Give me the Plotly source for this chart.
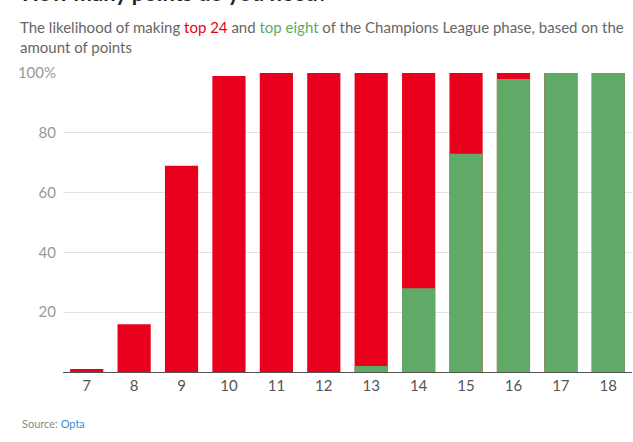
import plotly.graph_objects as go

points = ["7", "8", "9", "10", "11", "12", "13", "14", "15", "16", "17", "18"]
top24 = [1, 16, 69, 99, 100, 100, 100, 100, 100, 100, 100, 100]
top8 = [0, 0, 0, 0, 0, 0, 2, 28, 73, 98, 100, 100]
ytick_vals = [20, 40, 60, 80, 100]
ytick_text = ["20", "40", "60", "80", "100%"]

RED = "#E8001C"
GREEN = "#5FAA66"
FONT = "Lato"

fig = go.Figure()
fig.add_trace(go.Bar(x=points, y=top24, marker=dict(color=RED, line=dict(width=0)), name="top 24"))
fig.add_trace(go.Bar(x=points, y=top8, marker=dict(color=GREEN, line=dict(width=0)), name="top eight"))

fig.update_layout(
    width=633, height=442,
    barmode="overlay", bargap=0.3,
    showlegend=False,
    paper_bgcolor="white", plot_bgcolor="white",
    margin=dict(l=63, r=1, t=73, b=70),
    font=dict(family=FONT, color="#555555"),
    xaxis=dict(type="category", showgrid=False, showline=True, linecolor="#555555", linewidth=1,
               ticks="", tickfont=dict(size=15, color="#555555")),
    yaxis=dict(range=[0, 100], tickvals=ytick_vals, ticktext=ytick_text, showgrid=True,
               gridcolor="#e2e2e2", gridwidth=1, zeroline=False, showline=False,
               tickfont=dict(size=15, color="#999999"), ticks="", ticklabelstandoff=6),
    annotations=[
        dict(text="<b>How many points do you need?</b>", xref="paper", yref="paper", x=-43/569, xanchor="left",
             y=1 + (73 - 8) / 299, yanchor="bottom", showarrow=False, font=dict(size=22, color="#222222")),
        dict(text="The likelihood of making <span style='color:#E8001C'>top 24</span> and "
                  "<span style='color:#5FAA66'>top eight</span> of the Champions League phase, based on the<br>amount of points",
             xref="paper", yref="paper", x=-45/569, xanchor="left", y=1 + (73 - 16) / 299, yanchor="top",
             align="left", showarrow=False, font=dict(size=15, color="#666666")),
        dict(text="Source: <span style='color:#3A8FD0'>Opta</span>", xref="paper", yref="paper",
             x=-43/569, xanchor="left", y=-(424 - 372) / 299, yanchor="middle", showarrow=False,
             font=dict(size=11, color="#888888")),
    ],
)

fig.write_html("out.html", config={"displayModeBar": False},
               post_script="document.body.style.margin='0';")
